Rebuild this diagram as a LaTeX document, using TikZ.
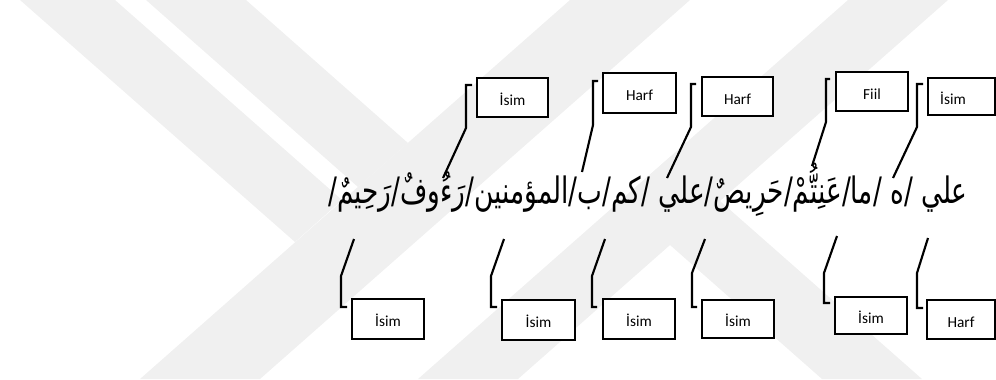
\documentclass[tikz,border=0pt]{standalone}
\usepackage{fontspec}
\setmainfont{Carlito}
\newfontfamily\arabicfont[Script=Arabic]{DejaVu Sans}
\TeXXeTstate=1
\begin{document}
\begin{tikzpicture}[x=0.75pt,y=-0.75pt,
  tag/.style={draw=black, line width=1.8pt, fill=white, inner sep=0pt,
    text height=11.6pt, text depth=0pt, font=\fontsize{11.5}{13}\selectfont},
  callout/.style={draw=black, line width=1.6pt, line join=miter},
  band/.style={fill=black!6, draw=none}]
\useasboundingbox (0,0) rectangle (996,379);

% pale emblem in the background
\begin{scope}
\clip (0,0) rectangle (996,379);
\fill[band] (570,0) -- (690,0) -- (260,379) -- (140,379) -- cycle;
\fill[band] (20,0) -- (115,0) -- (342,200) -- (295,242) -- cycle;
\fill[band] (146,0) -- (246,0) -- (408,143) -- (358,187) -- cycle;
\fill[band] (848,0) -- (948,0) -- (518,379) -- (418,379) -- cycle;
\fill[band] (670,157) -- (770,245) -- (922,379) -- (822,379) -- (670,245) -- (620,201) -- cycle;
\end{scope}

% the verse, words separated by slashes
\node[anchor=base, inner sep=0pt] (verse) at (648,203)
  {\scalebox{0.94}[1.3]{\arabicfont\fontsize{21}{25}\selectfont\beginR علي /ه /ما/عَنِتُّمْ/حَرِيصٌ/علي /كم/ب/المؤمنين/رَءُوفٌ/رَحِيمٌ/\endR}};

% word classes above the verse
\node[tag, minimum width=53.25pt, minimum height=29.25pt] (t1) at (512.5,97.5) {İsim};
\node[tag, minimum width=54.75pt, minimum height=30pt]    (t2) at (639.5,93)   {Harf};
\node[tag, minimum width=53.25pt, minimum height=29.25pt] (t3) at (737.5,96.5) {Harf};
\node[tag, minimum width=54pt,    minimum height=29.25pt] (t4) at (872,91.5)   {Fiil};
\node[tag, minimum width=50.25pt, minimum height=27.75pt] (t5) at (961.5,96.5) {};
\node[font=\fontsize{11.5}{13}\selectfont, text height=11.6pt, text depth=0pt, inner sep=0pt] (t5l) at (953,96.5) {İsim};

% word classes below the verse
\node[tag, minimum width=54pt,    minimum height=30pt]    (b1) at (388,319)    {İsim};
\node[tag, minimum width=54.75pt, minimum height=30pt]    (b2) at (538.5,320)  {İsim};
\node[tag, minimum width=54pt,    minimum height=30pt]    (b3) at (639,319)    {İsim};
\node[tag, minimum width=54pt,    minimum height=28.5pt]  (b4) at (738,319)    {İsim};
\node[tag, minimum width=54pt,    minimum height=27.75pt] (b5) at (871,315.5)  {İsim};
\node[tag, minimum width=51pt,    minimum height=29.25pt] (b6) at (961,319.5)  {Harf};

% free ends of the callouts, next to the words
\coordinate (w1) at (443,178);
\coordinate (w2) at (582,172);
\coordinate (w3) at (667,178);
\coordinate (w4) at (812,166);
\coordinate (w5) at (893,178);
\coordinate (v1) at (354,239);
\coordinate (v2) at (504,239);
\coordinate (v3) at (605,239);
\coordinate (v4) at (705,239);
\coordinate (v5) at (837,236);
\coordinate (v6) at (928,238);

% upper callouts: slanted stroke, upright stroke, short tick
\draw[callout] (w1) -- (466,128) |- (472,85);
\draw[callout] (w2) -- (593,125) |- (598,81);
\draw[callout] (w3) -- (691,127) |- (696,84);
\draw[callout] (w4) -- (826,122) |- (830,79);
\draw[callout] (w5) -- (917,127) |- (923,84);

% lower callouts
\draw[callout] (v1) -- (341,276) |- (347,307);
\draw[callout] (v2) -- (491,276) |- (497,307);
\draw[callout] (v3) -- (592,276) |- (597,307);
\draw[callout] (v4) -- (692,273) |- (697,307);
\draw[callout] (v5) -- (824,273) |- (830,303);
\draw[callout] (v6) -- (917,273) |- (923,308);
\end{tikzpicture}
\end{document}
